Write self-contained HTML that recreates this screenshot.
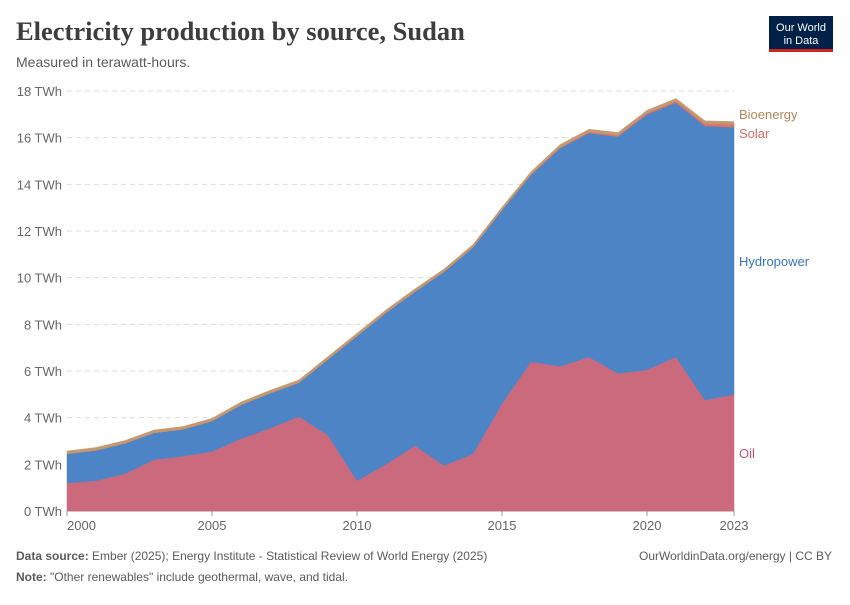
<!DOCTYPE html>
<html><head><meta charset="utf-8"><style>
body{margin:0;background:#fff;font-family:"Liberation Sans",sans-serif;}
svg text{font-family:"Liberation Sans",sans-serif;}
</style></head><body>
<svg id="c" width="850" height="600" xmlns="http://www.w3.org/2000/svg">
<text x="16" y="40" font-size="26.5" font-weight="bold" fill="#3d3d3d" style="font-family:'Liberation Serif',serif">Electricity production by source, Sudan</text>
<text x="16" y="67" font-size="14" fill="#5b5b5b">Measured in terawatt-hours.</text>
<g>
<rect x="769" y="16" width="64" height="36" fill="#002147"/>
<rect x="769" y="49" width="64" height="3" fill="#ce261e"/>
<text x="801" y="31" font-size="11" fill="#fff" text-anchor="middle">Our World</text>
<text x="801" y="44" font-size="11" fill="#fff" text-anchor="middle">in Data</text>
</g>
<g id="grid"></g><g id="areas"></g><g id="labels"></g>
<text x="16" y="560" font-size="12" fill="#5b5b5b"><tspan font-weight="bold">Data source:</tspan> Ember (2025); Energy Institute - Statistical Review of World Energy (2025)</text>
<text x="832" y="560" font-size="12" fill="#5b5b5b" text-anchor="end">OurWorldinData.org/energy | CC BY</text>
<text x="16" y="581" font-size="12" fill="#5b5b5b"><tspan font-weight="bold">Note:</tspan> "Other renewables" include geothermal, wave, and tidal.</text>
</svg>
<script>
const years=[2000,2001,2002,2003,2004,2005,2006,2007,2008,2009,2010,2011,2012,2013,2014,2015,2016,2017,2018,2019,2020,2021,2022,2023];
const oil=[1.2,1.3,1.6,2.2,2.35,2.55,3.1,3.55,4.05,3.25,1.3,2.0,2.8,1.95,2.45,4.6,6.4,6.2,6.6,5.9,6.05,6.6,4.75,5.0];
const hydro=[1.25,1.3,1.3,1.15,1.15,1.3,1.45,1.5,1.45,3.25,6.2,6.5,6.6,8.3,8.85,8.3,8.0,9.35,9.6,10.15,10.95,10.9,11.75,11.45];
const solar=[0,0,0,0,0,0,0,0,0,0,0,0,0,0,0,0,0.02,0.03,0.04,0.05,0.05,0.06,0.1,0.12];
const bio=[0.12,0.12,0.12,0.12,0.12,0.12,0.12,0.12,0.12,0.12,0.12,0.12,0.12,0.12,0.12,0.12,0.12,0.12,0.12,0.12,0.12,0.12,0.12,0.12];
const yTicks=[0,2,4,6,8,10,12,14,16,18];
const xTicks=[2000,2005,2010,2015,2020,2023];
const NS="http://www.w3.org/2000/svg";
const x=y=>67+(y-2000)*(734-67)/23;
const yS=v=>511-v*(420/18);
function mk(t,a,p){const e=document.createElementNS(NS,t);for(const k in a)e.setAttribute(k,a[k]);p.appendChild(e);return e;}
const g=document.getElementById('grid');
yTicks.forEach(v=>{
 if(v>0){const l=mk('line',{x1:67,x2:734,y1:yS(v),y2:yS(v),stroke:'#ddd','stroke-dasharray':'5,4'},g);
 
 }
 const t=mk('text',{x:62,y:yS(v)+5,'font-size':13,fill:'#666','text-anchor':'end'},g);t.textContent=v+' TWh';
 
 
});
const ax=mk('line',{x1:67,x2:734,y1:511,y2:511,stroke:'#999'},g);


xTicks.forEach((v,i)=>{
 mk('line',{x1:x(v),x2:x(v),y1:511,y2:516,stroke:'#999'},g);
 const t=mk('text',{x:i==0?x(v):x(v),y:530,'font-size':13,fill:'#666','text-anchor':i==0?'start':'middle'},g);t.textContent=v;
 
 
});
const series=[['oil',oil,'#ca6a7c'],['hydropower',hydro,'#4c84c6'],['solar',solar,'#e0706a'],['bioenergy',bio,'#c4996f']];
const base=years.map(()=>0);
const A=document.getElementById('areas');
series.forEach(([n,d,c])=>{
 const top=base.map((b,i)=>b+d[i]);
 let p='M'+years.map((y,i)=>x(y)+','+yS(top[i])).join('L');
 for(let i=years.length-1;i>=0;i--)p+='L'+x(years[i])+','+yS(base[i]);
 const e=mk('path',{d:p+'Z',fill:c,stroke:c,'stroke-width':0.5},A);
 
 
 top.forEach((v,i)=>base[i]=v);
});
const L=document.getElementById('labels');
[['Bioenergy',119,'#b3855a'],['Solar',138,'#d96a62'],['Hydropower',266,'#3a74bd'],['Oil',458,'#c4506a']].forEach(([t,yy,c])=>{
 const e=mk('text',{x:739,y:yy,'font-size':13,fill:c},L);e.textContent=t;
 
 
});
</script>
</body></html>
